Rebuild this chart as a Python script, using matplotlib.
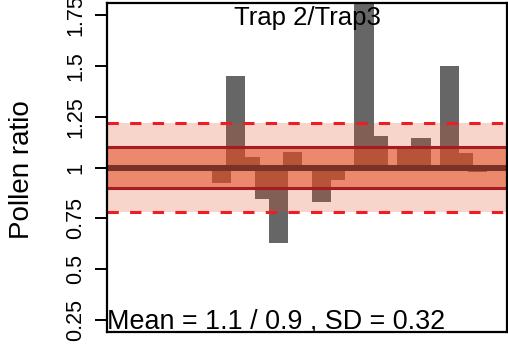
import numpy as np
import matplotlib.pyplot as plt

plt.rcParams['font.family'] = ['Liberation Sans', 'DejaVu Sans']

# Trap 2 / Trap 3 pollen ratios per sample
sample = np.arange(1, 28)
ratio = [1.0, 1.0, 1.0, 1.0, 1.0, 1.0, 1.0,
         0.923, 1.452, 1.05, 0.848, 0.627, 1.079, 1.0, 0.83,
         0.938, 1.0, 1.85, 1.156, 1.0, 1.095, 1.147, 1.0, 1.50,
         1.07, 0.979, 0.995]

mean_hi, mean_lo = 1.1, 0.9
sd_hi, sd_lo = 1.22, 0.78
sd = 0.32
yticks = [0.25, 0.5, 0.75, 1, 1.25, 1.5, 1.75]
ytick_labels = ['0.25', '0.5', '0.75', '1', '1.25', '1.5', '1.75']

fig = plt.figure(figsize=(5.08, 3.49), dpi=100)
ax = fig.add_axes([107 / 508, 1 - 332.3 / 349, 400 / 508, 329.3 / 349])

heights = np.array(ratio) - 1
ax.bar(sample, heights, bottom=1, width=1.34, color='#666666', zorder=1)

# spread bands drawn over the bars
band = (0.89, 0.29, 0.12)
ax.axhspan(sd_lo, sd_hi, color=band, alpha=0.23, lw=0, zorder=2)
ax.axhspan(mean_lo, mean_hi, color=band, alpha=0.55, lw=0, zorder=3)

ax.axhline(sd_hi, color='#EE1C25', lw=2.2, dashes=(3.7, 3.7), zorder=4)
ax.axhline(sd_lo, color='#EE1C25', lw=2.2, dashes=(3.7, 3.7), zorder=4)
ax.axhline(mean_hi, color='#A51C24', lw=2.2, zorder=4)
ax.axhline(mean_lo, color='#A51C24', lw=2.2, zorder=4)
ax.axhline(1, color='#7A3128', lw=4.3, zorder=5)

ax.set_xlim(1 - 1.04, 27 + 1.04)
ax.set_ylim(0.19, 1.81)
ax.set_xticks([])
ax.set_yticks(yticks)
ax.set_yticklabels(ytick_labels, rotation=90, va='center', fontsize=15.5)
ax.tick_params(axis='y', direction='out', length=8.6, width=1.4, pad=6.5)
for s in ax.spines.values():
    s.set_linewidth(1.6)
    s.set_zorder(10)

ax.text(0.5, 0.933, 'Trap 2/Trap3', transform=ax.transAxes,
        ha='center', va='baseline', fontsize=18.5, zorder=11)
ax.text(0.0, 0.012, 'Mean = %s / %s , SD = %s' % (mean_hi, mean_lo, sd),
        transform=ax.transAxes, ha='left', va='baseline', fontsize=19.4, zorder=11)
fig.text(22 / 508, 1 - 170 / 349, 'Pollen ratio', rotation=90,
         ha='center', va='center', fontsize=20)

fig.savefig('out.png', dpi=100)
